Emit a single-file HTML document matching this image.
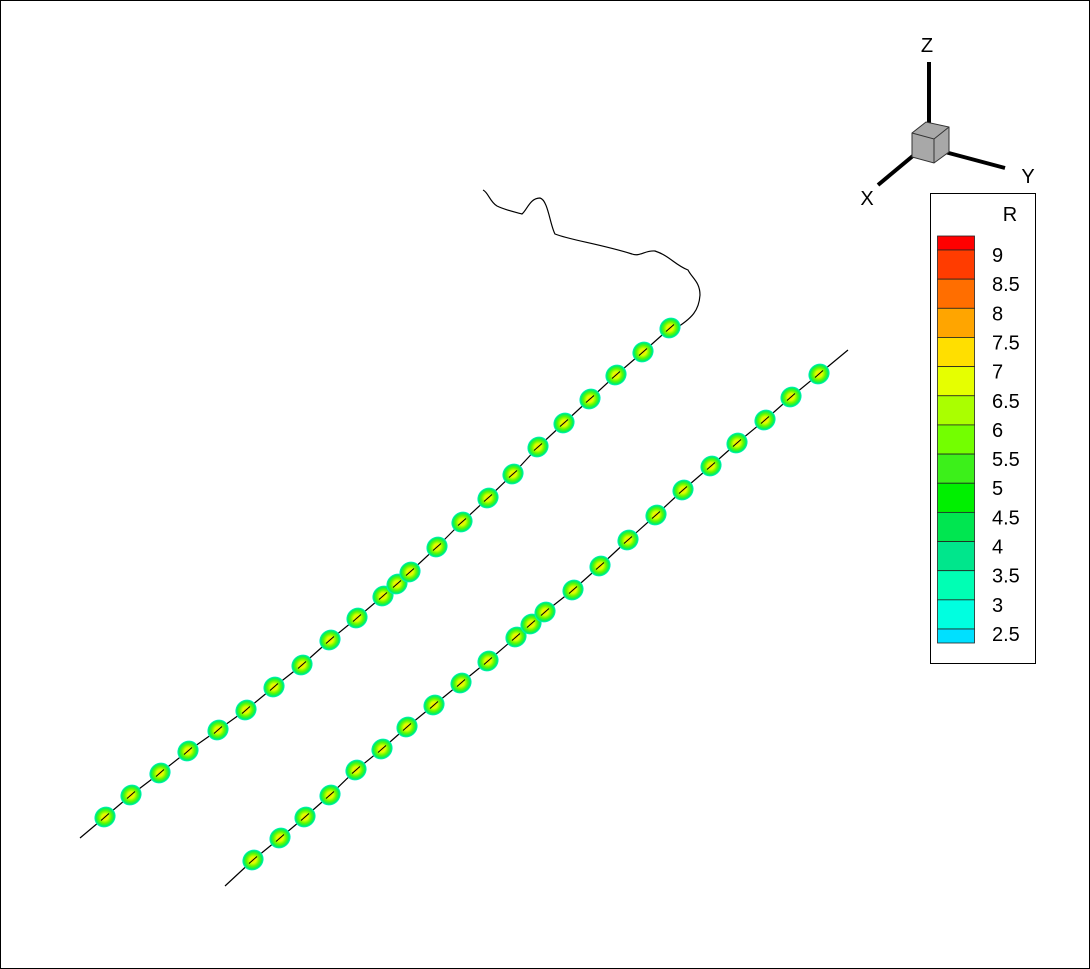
<!DOCTYPE html>
<html><head><meta charset="utf-8"><style>
body{margin:0;background:#fff}
svg{display:block;font-family:"Liberation Sans",sans-serif}
</style></head><body>
<svg id="plot" width="1090" height="969" viewBox="0 0 1090 969">
<defs>
<radialGradient id="blob">
<stop offset="0" stop-color="#ffd800"/>
<stop offset="0.3" stop-color="#e0ff00"/>
<stop offset="0.6" stop-color="#60f800"/>
<stop offset="0.85" stop-color="#00f060"/>
<stop offset="1" stop-color="#00f0d0"/>
</radialGradient>
</defs>
<rect x="0.5" y="0.5" width="1089" height="968" fill="#fff" stroke="#000"/>
<path d="M483,190 C488,192 490,202 497,206 C505,210 515,212 522,214 C527,210 530,198 540,198 C548,200 550,225 555,234 C570,240 600,244 632,254 C640,257 645,250 655,251 C670,256 675,265 688,270 C692,278 700,282 700,295 C699,310 693,318 673,330" fill="none" stroke="#000" stroke-width="1.2"/>
<g id="lines"></g>
<g id="blobs"></g>
<g>
<line x1="929" y1="62" x2="929" y2="128" stroke="#000" stroke-width="4"/>
<line x1="945" y1="152" x2="1005" y2="168" stroke="#000" stroke-width="4"/>
<line x1="914" y1="155" x2="878" y2="185" stroke="#000" stroke-width="4"/>
<polygon points="912,133 926,122 949,127 949,152 934,163 912,157" fill="#a8a8a8" stroke="#333" stroke-width="1"/>
<polyline points="912,133 934,139 949,127" fill="none" stroke="#333"/>
<line x1="934" y1="139" x2="934" y2="163" stroke="#333"/>
<text x="927" y="52" font-size="20" text-anchor="middle">Z</text>
<text x="1028" y="183" font-size="20" text-anchor="middle">Y</text>
<text x="867" y="205" font-size="20" text-anchor="middle">X</text>
</g>
<g>
<rect x="930.5" y="193.5" width="105" height="470" fill="#fff" stroke="#000"/>
<text x="1010" y="221" font-size="20" text-anchor="middle">R</text>
<g id="legend"></g>
</g>
</svg>
<script>
const line1X=[105,131,160,188,218,246,274,302,330,357,383,397,410,437,462,488,513,538,564,590,616,643,670];
const line1Y=[817,795,773,751,730,710,687,665,640,618,596,584,572,547,522,498,474,447,423,399,375,352,328];
const line2X=[253,280,305,330,356,382,407,434,461,488,516,531,545,573,600,628,656,683,711,737,765,791,819];
const line2Y=[860,838,817,795,770,749,727,705,683,661,637,624,612,590,566,540,515,490,466,443,420,397,374];
const legendLabels=["9","8.5","8","7.5","7","6.5","6","5.5","5","4.5","4","3.5","3","2.5"];
const legendColors=["#ff0000","#ff3c00","#ff6e00","#ffa500","#ffdf00","#e6ff00","#aaff00","#73ff00","#3cf01a","#00f000","#00e650","#00e68c","#00ffb4","#00ffe0","#00e0ff"];
const NS="http://www.w3.org/2000/svg";
const lines=document.getElementById('lines'),blobs=document.getElementById('blobs'),leg=document.getElementById('legend');
function mk(t,a){const e=document.createElementNS(NS,t);for(const k in a)e.setAttribute(k,a[k]);return e;}
function drawLine(xs,ys,start,end,name){
  const pts=[start].concat(xs.map((x,i)=>[x,ys[i]]));if(end)pts.push(end);
  const p=mk('polyline',{points:pts.map(p=>p.join(',')).join(' '),fill:'none',stroke:'#000','stroke-width':1.2});
  
  
  lines.appendChild(p);
  xs.forEach((x,i)=>{
    const c=mk('ellipse',{cx:x,cy:ys[i],rx:11,ry:10,fill:'url(#blob)',transform:`rotate(-40 ${x} ${ys[i]})`});
    
    
    blobs.appendChild(c);
    blobs.appendChild(mk('line',{x1:x-4,y1:ys[i]+3.5,x2:x+4,y2:ys[i]-3.5,stroke:'#000','stroke-width':1}));
  });
}
drawLine(line1X,line1Y,[80,838],null,'trajectory-1');
drawLine(line2X,line2Y,[225,886],[848,350],'trajectory-2');
const top0=236,bot=643,n=legendColors.length,half=14,step=(bot-top0-2*half)/(n-2);
let y=top0;
legendColors.forEach((c,i)=>{
  const h=(i===0||i===n-1)?half:step;
  const r=mk('rect',{x:937.5,y:y,width:37,height:h,fill:c,stroke:'#222','stroke-width':0.8});
  
  
  leg.appendChild(r);
  y+=h;
});
legendLabels.forEach((l,i)=>{
  const t=mk('text',{x:992,y:top0+half+i*step+12,'font-size':20});
  t.textContent=l;
  
  
  leg.appendChild(t);
});
</script>
</body></html>
